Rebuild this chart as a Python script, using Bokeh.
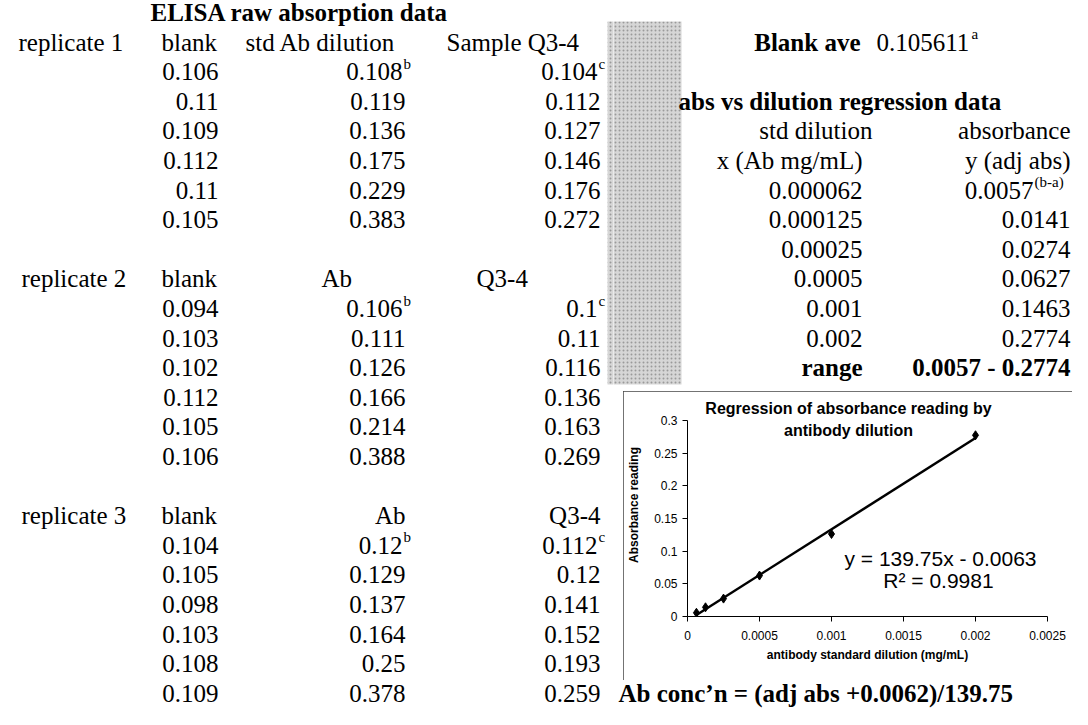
from bokeh.plotting import figure
from bokeh.layouts import row, column, Spacer
from bokeh.models import Range1d, ColumnDataSource, FixedTicker
from bokeh.core.properties import value
from bokeh.embed import file_html
from bokeh.resources import INLINE

# ---------------- data ----------------
table_title = "ELISA raw absorption data"
rep_labels = ["replicate 1", "replicate 2", "replicate 3"]
rep1_headers = ["blank", "std Ab dilution", "Sample Q3-4"]
rep2_headers = ["blank", "Ab", "Q3-4"]
rep3_headers = ["blank", "Ab", "Q3-4"]
blank_r1 = [0.106, 0.11, 0.109, 0.112, 0.11, 0.105]
std_r1 = [0.108, 0.119, 0.136, 0.175, 0.229, 0.383]
q34_r1 = [0.104, 0.112, 0.127, 0.146, 0.176, 0.272]
blank_r2 = [0.094, 0.103, 0.102, 0.112, 0.105, 0.106]
ab_r2 = [0.106, 0.111, 0.126, 0.166, 0.214, 0.388]
q34_r2 = [0.1, 0.11, 0.116, 0.136, 0.163, 0.269]
blank_r3 = [0.104, 0.105, 0.098, 0.103, 0.108, 0.109]
ab_r3 = [0.12, 0.129, 0.137, 0.164, 0.25, 0.378]
q34_r3 = [0.112, 0.12, 0.141, 0.152, 0.193, 0.259]
first_row_notes = ["", "b", "c"]

blank_ave_label = "Blank ave"
blank_ave = "0.105611"
regression_title = "abs vs dilution regression data"
reg_headers_x = ["std dilution", "x (Ab mg/mL)"]
reg_headers_y = ["absorbance", "y (adj abs)"]
std_dilution = [0.000062, 0.000125, 0.00025, 0.0005, 0.001, 0.002]
adj_abs = [0.0057, 0.0141, 0.0274, 0.0627, 0.1463, 0.2774]
range_text = "0.0057 - 0.2774"
conc_formula = "Ab conc\u2019n = (adj abs +0.0062)/139.75"

# values as plotted in the inset chart
chart_dilution = [0.000062, 0.000125, 0.00025, 0.0005, 0.001, 0.002]
chart_abs = [0.0057, 0.0141, 0.0274, 0.0627, 0.1263, 0.2774]
slope = 139.75
intercept = -0.0063
r_squared = 0.9981
chart_title = ["Regression of absorbance reading by", "antibody dilution"]
x_label = "antibody standard dilution (mg/mL)"
y_label = "Absorbance reading"
x_ticks = [0, 0.0005, 0.001, 0.0015, 0.002, 0.0025]
x_tick_labels = ["0", "0.0005", "0.001", "0.0015", "0.002", "0.0025"]
y_ticks = [0, 0.05, 0.1, 0.15, 0.2, 0.25, 0.3]
y_tick_labels = ["0", "0.05", "0.1", "0.15", "0.2", "0.25", "0.3"]

# ---------------- layout constants ----------------
SERIF = "Liberation Serif"
SANS = "Liberation Sans"
ROW0, ROW_H = 24.0, 29.6


def ry(i):
    return ROW0 + ROW_H * i


def fmt(v):
    return f"{v:.6f}".rstrip("0")


def text_fig(x0, x1, y0, y1):
    p = figure(width=int(round(x1 - x0)), height=int(round(y1 - y0)),
               x_range=Range1d(x0, x1), y_range=Range1d(y1, y0),
               output_backend="svg", toolbar_location=None,
               x_axis_location=None, y_axis_location=None, min_border=0)
    p.grid.visible = False
    p.outline_line_color = None
    p.background_fill_color = "white"
    p.border_fill_color = "white"
    return p


def put(p, xs, ys, texts, align="left", size=25, bold=False, font=SERIF):
    src = ColumnDataSource(dict(x=list(xs), y=list(ys), t=list(texts)))
    p.text(x="x", y="y", text="t", source=src, text_align=align,
           text_baseline="middle", text_font=value(font),
           text_font_size=value(f"{size}px"),
           text_font_style="bold" if bold else "normal", text_color="black")


def gray_band(p):
    p.quad(left=[619], right=[693], top=[33], bottom=[396],
           fill_color="#d6d6d6", line_color=None,
           hatch_pattern=".", hatch_color="#9a9a9a", hatch_scale=4,
           hatch_weight=1)


# ---------------- left table ----------------
left = text_fig(12, 625, 12, 721)
gray_band(left)
put(left, [162], [ry(0)], [table_title], bold=True)

reps = [
    (rep1_headers, blank_r1, std_r1, q34_r1, 30,
     [(173, "left"), (257, "left"), (458, "left")]),
    (rep2_headers, blank_r2, ab_r2, q34_r2, 33,
     [(173, "left"), (333, "left"), (488, "left")]),
    (rep3_headers, blank_r3, ab_r3, q34_r3, 33,
     [(173, "left"), (417, "right"), (612, "right")]),
]
col_right = [230, 417, 612]
for k, (hdrs, c0, c1, c2, lx, anchors) in enumerate(reps):
    h = 1 + 8 * k
    put(left, [lx], [ry(h)], [rep_labels[k]])
    for (ax, al), t in zip(anchors, hdrs):
        put(left, [ax], [ry(h)], [t], align=al)
    for ci, col in enumerate([c0, c1, c2]):
        ys = [ry(h + 1 + j) for j in range(len(col))]
        txt = [f"{v:g}" for v in col]
        note = first_row_notes[ci]
        if note:
            put(left, [col_right[ci] - 3], [ys[0]], [txt[0]], align="right")
            put(left, [col_right[ci] - 2], [ys[0] - 8], [note], size=15)
            put(left, [col_right[ci]] * (len(col) - 1), ys[1:], txt[1:], align="right")
        else:
            put(left, [col_right[ci]] * len(col), ys, txt, align="right")

# ---------------- right top table ----------------
rtop = text_fig(625, 1084, 12, 403)
gray_band(rtop)
XR, YR = 874, 1082
put(rtop, [XR - 2], [ry(1)], [blank_ave_label], align="right", bold=True)
put(rtop, [888], [ry(1)], [blank_ave])
put(rtop, [983], [ry(1) - 8], ["a"], size=15)
put(rtop, [690], [ry(3)], [regression_title], bold=True)
put(rtop, [XR + 10, XR], [ry(4), ry(5)], reg_headers_x, align="right")
put(rtop, [YR, YR], [ry(4), ry(5)], reg_headers_y, align="right")
put(rtop, [XR] * len(std_dilution), [ry(6 + j) for j in range(len(std_dilution))],
    [fmt(v) for v in std_dilution], align="right")
put(rtop, [1045], [ry(6)], [f"{adj_abs[0]:g}"], align="right")
put(rtop, [1046], [ry(6) - 8], ["(b-a)"], size=15)
put(rtop, [YR] * (len(adj_abs) - 1), [ry(7 + j) for j in range(len(adj_abs) - 1)],
    [f"{v:g}" for v in adj_abs[1:]], align="right")
put(rtop, [XR], [ry(12)], ["range"], align="right", bold=True)
put(rtop, [YR], [ry(12)], [range_text], align="right", bold=True)

# ---------------- inset chart ----------------
FRAME_W, FRAME_H = 360, 223
X_END = x_ticks[-1]
Y_END = y_ticks[-1] * FRAME_H / 196.0


def dx(px):
    return X_END * px / FRAME_W


def dy(px):
    return Y_END * px / FRAME_H


chart = figure(width=449, height=289, x_range=Range1d(0, X_END),
               y_range=Range1d(0, Y_END), output_backend="svg",
               toolbar_location=None, min_border_left=64, min_border_right=25,
               min_border_top=2, min_border_bottom=64)
chart.grid.visible = False
chart.outline_line_color = None
chart.background_fill_color = "white"
chart.border_fill_color = "white"
chart.styles = {"outline": "1px solid #444", "outline-offset": "-1px"}

for ax, ticks, labels in [(chart.xaxis[0], x_ticks, x_tick_labels),
                          (chart.yaxis[0], y_ticks, y_tick_labels)]:
    ax.ticker = FixedTicker(ticks=ticks)
    ax.major_label_overrides = {t: l for t, l in zip(ticks, labels)}
    ax.bounds = (ticks[0], ticks[-1])
    ax.axis_line_color = "black"
    ax.axis_line_width = 1
    ax.major_tick_line_color = "black"
    ax.major_tick_in = 0
    ax.major_tick_out = 5
    ax.minor_tick_line_color = None
    ax.major_label_text_font = SANS
    ax.major_label_text_font_size = "12px"
    ax.major_label_text_color = "black"
    ax.axis_label_text_font = SANS
    ax.axis_label_text_font_size = "12px"
    ax.axis_label_text_font_style = "bold"
    ax.axis_label_text_color = "black"

chart.xaxis.axis_label = x_label
chart.yaxis.axis_label = y_label
chart.xaxis.major_label_standoff = 9
chart.xaxis.axis_label_standoff = 5
chart.yaxis.major_label_standoff = 5
chart.yaxis.axis_label_standoff = 10

x0, x1 = min(chart_dilution), max(chart_dilution)
chart.line(x=[x0, x1], y=[slope * x0 + intercept, slope * x1 + intercept],
           line_color="black", line_width=2.5)
chart.scatter(x=chart_dilution, y=chart_abs, marker="diamond", size=9,
              fill_color="black", line_color="black")

chart.text(x=[dx(161), dx(161)], y=[dy(208), dy(186)], text=chart_title,
           text_align="center", text_baseline="middle",
           text_font=value(SANS), text_font_size=value("16px"),
           text_font_style="bold", text_color="black")
eq_text = f"y = {slope}x - {abs(intercept)}"
r2_text = f"R\u00b2 = {r_squared}"
chart.text(x=[dx(253), dx(251)], y=[dy(58), dy(36)], text=[eq_text, r2_text],
           text_align="center", text_baseline="middle",
           text_font=value(SANS), text_font_size=value("21px"),
           text_color="black")

# ---------------- bottom right ----------------
rbot = text_fig(625, 1084, 692, 721)
put(rbot, [630], [ry(23)], [conc_formula], bold=True)

layout = row(left, column(rtop, row(Spacer(width=10, height=289), chart), rbot))

with open("out.html", "w") as f:
    f.write(file_html(layout, INLINE))
